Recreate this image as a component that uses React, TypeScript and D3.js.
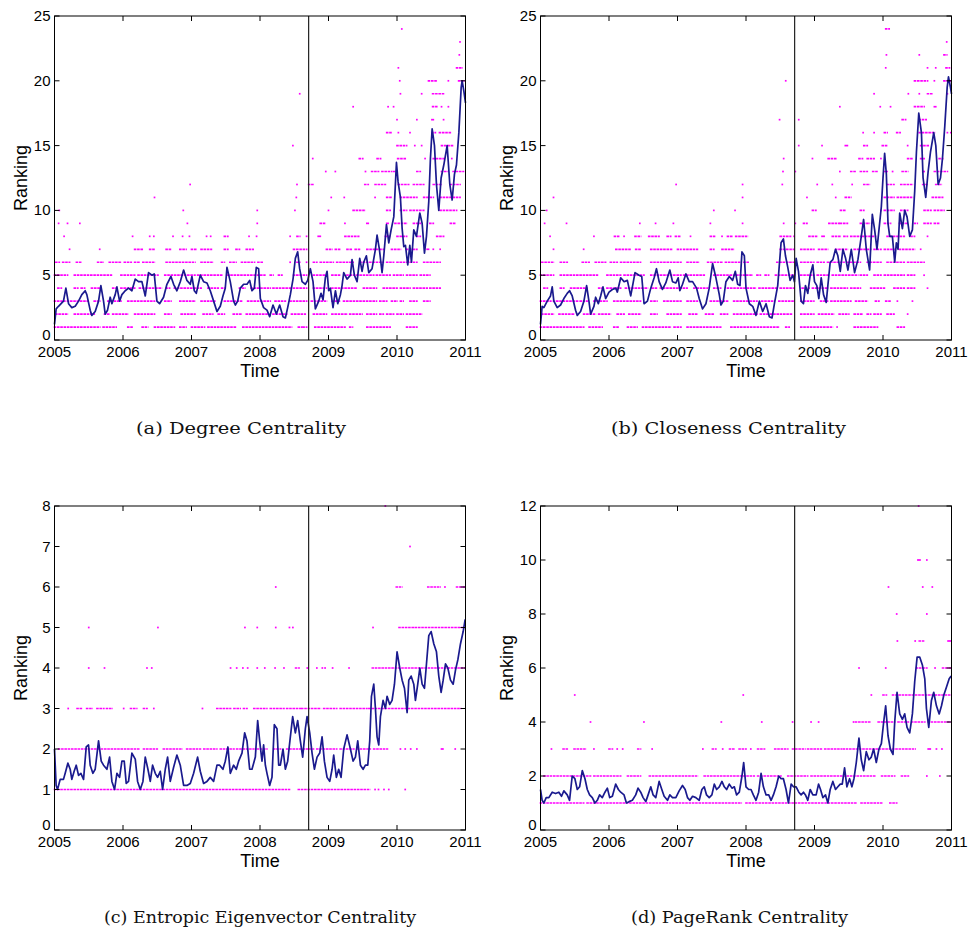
import React from "react";
import * as d3 from "d3";

const yearTicks = [2005, 2006, 2007, 2008, 2009, 2010, 2011];
const crisisDate = 2008.71;

const degreeLine: [number, number][] = [[2005.000,1.2],[2005.024,2.4],[2005.058,2.6],[2005.131,3.0],[2005.166,4.0],[2005.205,2.8],[2005.253,2.5],[2005.302,2.6],[2005.351,3.0],[2005.399,3.5],[2005.448,3.8],[2005.472,3.5],[2005.521,2.3],[2005.545,1.9],[2005.594,2.2],[2005.643,3.0],[2005.677,4.2],[2005.716,3.0],[2005.740,2.0],[2005.774,2.3],[2005.813,3.3],[2005.838,2.8],[2005.886,3.5],[2005.911,4.1],[2005.950,3.0],[2005.984,3.5],[2006.032,3.8],[2006.081,4.0],[2006.130,3.8],[2006.179,4.7],[2006.227,4.5],[2006.276,4.5],[2006.325,3.4],[2006.373,5.2],[2006.422,5.0],[2006.456,5.1],[2006.495,3.0],[2006.534,2.8],[2006.592,3.3],[2006.641,4.3],[2006.700,4.9],[2006.739,4.3],[2006.787,3.8],[2006.836,4.5],[2006.885,5.4],[2006.933,4.6],[2006.982,4.3],[2007.006,4.9],[2007.041,3.8],[2007.070,3.6],[2007.128,5.0],[2007.177,4.5],[2007.226,4.4],[2007.274,3.8],[2007.323,3.0],[2007.372,2.2],[2007.420,2.6],[2007.459,3.4],[2007.493,4.0],[2007.518,5.6],[2007.566,4.5],[2007.615,3.0],[2007.640,2.7],[2007.674,3.0],[2007.713,4.0],[2007.761,4.3],[2007.810,4.3],[2007.849,4.6],[2007.883,3.8],[2007.917,4.0],[2007.946,5.6],[2007.980,5.5],[2008.005,3.2],[2008.053,2.5],[2008.102,2.3],[2008.141,1.8],[2008.190,2.7],[2008.239,2.0],[2008.287,2.7],[2008.336,1.8],[2008.370,1.7],[2008.404,2.5],[2008.443,3.5],[2008.482,4.7],[2008.516,6.3],[2008.550,6.8],[2008.579,5.5],[2008.614,4.5],[2008.662,4.3],[2008.696,4.6],[2008.735,5.5],[2008.774,4.5],[2008.808,2.4],[2008.857,3.0],[2008.891,3.6],[2008.920,3.1],[2008.954,4.8],[2008.979,5.3],[2009.003,3.8],[2009.027,4.0],[2009.066,2.5],[2009.101,3.8],[2009.135,2.8],[2009.174,3.5],[2009.198,4.2],[2009.222,5.2],[2009.271,4.7],[2009.320,5.0],[2009.344,6.2],[2009.378,5.0],[2009.417,4.5],[2009.456,6.3],[2009.490,5.3],[2009.514,6.0],[2009.553,6.5],[2009.588,5.2],[2009.636,5.5],[2009.685,7.0],[2009.709,8.1],[2009.743,7.0],[2009.782,5.2],[2009.807,6.5],[2009.846,8.9],[2009.880,7.5],[2009.914,8.5],[2009.953,9.5],[2009.992,13.7],[2010.016,12.2],[2010.050,11.0],[2010.075,8.6],[2010.099,7.2],[2010.123,7.3],[2010.157,5.8],[2010.187,7.3],[2010.211,6.0],[2010.245,8.5],[2010.284,8.0],[2010.333,9.8],[2010.367,9.0],[2010.401,6.7],[2010.430,8.0],[2010.464,10.7],[2010.488,14.0],[2010.513,16.3],[2010.547,15.0],[2010.576,12.0],[2010.610,10.0],[2010.644,12.5],[2010.683,13.5],[2010.732,15.0],[2010.771,12.0],[2010.805,10.8],[2010.839,12.8],[2010.868,13.5],[2010.903,16.0],[2010.937,19.5],[2010.951,20.0],[2010.976,19.2],[2011.000,18.3]];

const closenessLine: [number, number][] = [[2005.000,1.2],[2005.024,2.6],[2005.049,2.5],[2005.098,3.0],[2005.146,3.4],[2005.171,4.1],[2005.195,3.0],[2005.244,2.5],[2005.293,2.7],[2005.341,3.2],[2005.390,3.6],[2005.424,3.8],[2005.463,3.4],[2005.512,2.3],[2005.537,1.9],[2005.585,2.2],[2005.634,3.0],[2005.673,4.2],[2005.707,3.0],[2005.732,2.0],[2005.780,2.6],[2005.805,3.3],[2005.844,2.8],[2005.878,3.4],[2005.912,4.1],[2005.951,3.2],[2006.000,3.7],[2006.049,3.9],[2006.098,4.0],[2006.122,3.7],[2006.171,4.8],[2006.220,4.5],[2006.268,4.6],[2006.317,3.4],[2006.380,5.2],[2006.439,5.0],[2006.478,4.9],[2006.512,2.8],[2006.561,3.0],[2006.610,4.0],[2006.659,4.8],[2006.693,5.5],[2006.732,4.5],[2006.780,3.9],[2006.829,4.4],[2006.888,5.4],[2006.927,4.5],[2006.976,4.4],[2007.010,4.8],[2007.034,3.8],[2007.073,4.3],[2007.122,5.1],[2007.171,4.5],[2007.220,4.5],[2007.278,4.0],[2007.317,3.2],[2007.366,2.4],[2007.415,2.8],[2007.463,4.0],[2007.512,5.9],[2007.561,4.8],[2007.610,3.5],[2007.634,2.7],[2007.668,3.0],[2007.707,4.5],[2007.756,4.9],[2007.805,4.6],[2007.844,5.3],[2007.878,4.3],[2007.912,4.2],[2007.941,6.8],[2007.976,6.5],[2008.000,4.0],[2008.049,2.8],[2008.098,2.6],[2008.146,1.9],[2008.195,3.0],[2008.244,2.2],[2008.293,2.8],[2008.341,1.8],[2008.380,1.7],[2008.415,2.8],[2008.463,4.2],[2008.512,7.5],[2008.546,7.8],[2008.576,6.5],[2008.610,5.6],[2008.644,4.6],[2008.683,5.0],[2008.707,4.5],[2008.732,6.3],[2008.766,5.3],[2008.805,3.0],[2008.839,2.8],[2008.868,4.2],[2008.902,3.6],[2008.937,5.0],[2008.976,5.8],[2009.000,4.5],[2009.034,4.2],[2009.063,3.2],[2009.098,4.8],[2009.132,3.5],[2009.171,2.9],[2009.195,4.2],[2009.229,6.0],[2009.268,6.2],[2009.307,7.0],[2009.341,6.5],[2009.376,5.3],[2009.415,7.0],[2009.454,6.3],[2009.488,5.4],[2009.537,7.0],[2009.585,5.2],[2009.634,6.2],[2009.683,8.0],[2009.717,9.3],[2009.756,7.0],[2009.805,5.4],[2009.844,9.7],[2009.878,8.5],[2009.912,7.0],[2009.941,8.5],[2009.976,10.3],[2010.000,12.5],[2010.024,14.4],[2010.049,12.8],[2010.073,9.0],[2010.098,8.0],[2010.137,8.0],[2010.171,6.0],[2010.195,7.5],[2010.220,7.0],[2010.244,9.8],[2010.283,8.6],[2010.317,10.0],[2010.351,9.5],[2010.390,8.0],[2010.429,8.5],[2010.463,11.5],[2010.488,14.5],[2010.522,17.5],[2010.561,16.0],[2010.585,12.5],[2010.624,11.0],[2010.659,13.0],[2010.693,14.5],[2010.741,16.0],[2010.771,15.0],[2010.805,12.0],[2010.839,12.5],[2010.868,14.0],[2010.902,16.5],[2010.937,19.5],[2010.956,20.3],[2010.985,19.5],[2011.000,19.0]];

const entropicLine: [number, number][] = [[2005.000,2.0],[2005.024,1.1],[2005.044,1.0],[2005.083,1.25],[2005.131,1.25],[2005.156,1.4],[2005.195,1.65],[2005.229,1.5],[2005.253,1.25],[2005.287,1.45],[2005.317,1.6],[2005.351,1.35],[2005.385,1.4],[2005.424,1.25],[2005.463,2.05],[2005.497,2.1],[2005.521,1.6],[2005.560,1.4],[2005.594,1.5],[2005.643,2.2],[2005.682,1.7],[2005.716,1.6],[2005.765,1.5],[2005.804,1.8],[2005.838,1.2],[2005.877,1.0],[2005.911,1.4],[2005.950,1.3],[2005.984,1.7],[2006.018,1.7],[2006.047,1.15],[2006.081,1.2],[2006.130,1.9],[2006.179,1.75],[2006.213,1.2],[2006.252,1.0],[2006.291,1.2],[2006.325,1.8],[2006.364,1.5],[2006.398,1.2],[2006.432,1.6],[2006.471,1.4],[2006.505,1.3],[2006.544,1.45],[2006.578,1.0],[2006.617,1.5],[2006.651,1.8],[2006.690,1.2],[2006.739,1.55],[2006.787,1.85],[2006.836,1.6],[2006.885,1.1],[2006.933,1.1],[2006.982,1.15],[2007.031,1.4],[2007.089,1.8],[2007.128,1.45],[2007.177,1.15],[2007.226,1.2],[2007.274,1.3],[2007.323,1.2],[2007.372,1.6],[2007.411,1.6],[2007.459,1.5],[2007.493,1.7],[2007.532,2.05],[2007.566,1.4],[2007.615,1.6],[2007.654,1.5],[2007.688,1.7],[2007.737,1.9],[2007.776,2.4],[2007.810,2.2],[2007.849,1.5],[2007.883,1.5],[2007.932,1.8],[2007.966,2.7],[2007.995,2.2],[2008.029,1.7],[2008.053,2.1],[2008.078,1.6],[2008.102,1.4],[2008.141,1.1],[2008.175,1.3],[2008.209,2.6],[2008.248,2.5],[2008.273,1.6],[2008.297,1.6],[2008.336,2.0],[2008.370,1.5],[2008.404,1.7],[2008.443,2.3],[2008.477,2.8],[2008.516,2.4],[2008.550,2.7],[2008.589,2.2],[2008.623,1.8],[2008.662,2.5],[2008.687,2.8],[2008.726,2.4],[2008.760,1.9],[2008.794,1.5],[2008.833,1.8],[2008.872,1.9],[2008.906,2.3],[2008.940,1.7],[2008.979,1.3],[2009.018,1.2],[2009.052,1.5],[2009.076,1.85],[2009.115,1.3],[2009.149,1.5],[2009.183,1.3],[2009.222,2.0],[2009.271,2.35],[2009.320,2.0],[2009.359,1.7],[2009.393,1.8],[2009.427,2.2],[2009.466,1.6],[2009.505,1.5],[2009.539,1.6],[2009.573,1.6],[2009.602,2.2],[2009.627,3.3],[2009.661,3.6],[2009.685,3.0],[2009.709,2.3],[2009.734,2.1],[2009.758,2.8],[2009.797,3.2],[2009.831,3.0],[2009.855,3.3],[2009.894,3.1],[2009.928,3.2],[2009.963,3.6],[2010.001,4.4],[2010.040,4.0],[2010.075,3.7],[2010.109,3.5],[2010.148,2.9],[2010.172,3.7],[2010.206,3.8],[2010.245,3.6],[2010.269,3.2],[2010.303,3.6],[2010.333,4.0],[2010.367,3.6],[2010.401,3.5],[2010.430,4.1],[2010.464,4.8],[2010.498,4.9],[2010.537,4.6],[2010.576,4.4],[2010.610,3.8],[2010.644,3.4],[2010.674,3.7],[2010.708,4.1],[2010.742,4.0],[2010.781,3.7],[2010.820,3.6],[2010.854,3.95],[2010.888,4.2],[2010.927,4.6],[2010.966,4.9],[2010.995,5.2]];

const pagerankLine: [number, number][] = [[2005.000,1.5],[2005.024,1.1],[2005.049,1.0],[2005.083,1.2],[2005.122,1.2],[2005.171,1.4],[2005.220,1.35],[2005.268,1.4],[2005.307,1.25],[2005.341,1.45],[2005.390,1.3],[2005.424,1.1],[2005.463,2.0],[2005.502,1.9],[2005.537,1.5],[2005.571,1.6],[2005.610,2.2],[2005.649,1.9],[2005.683,1.5],[2005.717,1.3],[2005.756,1.2],[2005.795,1.0],[2005.829,1.1],[2005.863,1.3],[2005.902,1.2],[2005.941,1.4],[2005.976,1.55],[2006.010,1.2],[2006.049,1.25],[2006.098,1.7],[2006.137,1.5],[2006.171,1.4],[2006.220,1.3],[2006.254,1.0],[2006.293,1.05],[2006.341,1.1],[2006.390,1.3],[2006.424,1.55],[2006.463,1.4],[2006.498,1.2],[2006.537,1.05],[2006.571,1.3],[2006.610,1.6],[2006.644,1.3],[2006.683,1.2],[2006.732,1.8],[2006.771,1.5],[2006.805,1.25],[2006.854,1.1],[2006.888,1.3],[2006.927,1.2],[2006.976,1.2],[2007.024,1.45],[2007.073,1.65],[2007.112,1.5],[2007.146,1.2],[2007.180,1.1],[2007.220,1.25],[2007.268,1.2],[2007.317,1.1],[2007.356,1.5],[2007.390,1.6],[2007.424,1.3],[2007.463,1.2],[2007.502,1.3],[2007.537,1.7],[2007.571,1.5],[2007.610,1.6],[2007.649,1.8],[2007.683,1.6],[2007.717,1.5],[2007.756,1.7],[2007.795,1.55],[2007.829,1.6],[2007.863,1.3],[2007.902,1.4],[2007.941,2.0],[2007.966,2.5],[2008.000,1.6],[2008.039,1.5],[2008.073,1.5],[2008.107,1.3],[2008.146,1.1],[2008.185,1.4],[2008.220,2.1],[2008.254,1.6],[2008.293,1.3],[2008.332,1.3],[2008.366,1.1],[2008.400,1.3],[2008.439,1.6],[2008.478,2.0],[2008.512,1.9],[2008.546,1.9],[2008.585,1.5],[2008.620,1.0],[2008.659,1.7],[2008.693,1.6],[2008.732,1.6],[2008.771,1.4],[2008.805,1.3],[2008.839,1.4],[2008.868,1.3],[2008.902,1.1],[2008.937,1.5],[2008.976,1.3],[2009.024,1.3],[2009.059,1.7],[2009.088,1.5],[2009.122,1.2],[2009.161,1.3],[2009.195,1.0],[2009.229,1.5],[2009.268,1.8],[2009.307,1.5],[2009.341,1.6],[2009.376,1.7],[2009.405,1.7],[2009.439,2.3],[2009.473,1.6],[2009.512,1.9],[2009.546,1.6],[2009.576,1.9],[2009.610,2.5],[2009.649,3.4],[2009.683,2.6],[2009.717,2.2],[2009.756,2.9],[2009.795,2.6],[2009.829,2.7],[2009.863,3.0],[2009.902,2.5],[2009.941,3.0],[2009.976,3.2],[2010.010,4.0],[2010.039,4.6],[2010.073,3.5],[2010.107,3.0],[2010.146,2.8],[2010.171,4.0],[2010.205,5.1],[2010.244,4.3],[2010.283,4.1],[2010.317,4.3],[2010.351,3.8],[2010.390,3.6],[2010.429,4.3],[2010.463,5.5],[2010.498,6.4],[2010.537,6.4],[2010.576,6.1],[2010.610,5.6],[2010.634,4.5],[2010.668,3.8],[2010.707,4.8],[2010.741,5.1],[2010.780,4.6],[2010.820,4.3],[2010.854,4.6],[2010.888,5.0],[2010.927,5.3],[2010.966,5.6],[2010.995,5.7]];

type DotRow = [number, number[][]];

const degreeDots: DotRow[] = [
  [1, [[2005.00,2005.66],[2005.71,2005.90],[2006.07,2006.14],[2006.28,2006.36],[2006.46,2006.75],[2006.83,2006.92],[2007.00,2007.19],[2007.24,2007.65],[2007.75,2008.46],[2008.56,2008.61],[2008.63,2008.68],[2008.80,2009.24],[2009.31,2009.35],[2009.56,2009.90],[2010.14,2010.29]]],
  [2, [[2005.02,2005.19],[2005.29,2005.58],[2005.73,2005.80],[2005.85,2006.07],[2006.17,2006.46],[2006.61,2006.70],[2006.85,2007.05],[2007.17,2007.31],[2007.39,2007.48],[2007.61,2007.73],[2007.80,2008.12],[2008.19,2008.27],[2008.29,2008.39],[2008.46,2008.66],[2008.78,2008.97],[2009.05,2009.27],[2009.31,2009.49],[2009.56,2009.70],[2009.75,2009.80],[2009.85,2009.95],[2010.00,2010.09],[2010.14,2010.36]]],
  [3, [[2005.00,2005.15],[2005.19,2005.49],[2005.58,2005.66],[2005.78,2005.97],[2006.07,2006.46],[2006.61,2006.70],[2006.83,2007.05],[2007.14,2007.34],[2007.48,2007.73],[2007.82,2008.15],[2008.22,2008.37],[2008.44,2008.68],[2008.75,2008.97],[2009.05,2009.17],[2009.22,2009.70],[2009.75,2009.85],[2009.92,2010.00],[2010.05,2010.09],[2010.19,2010.29],[2010.39,2010.48]]],
  [4, [[2005.05,2005.10],[2005.29,2005.34],[2005.39,2005.44],[2005.54,2005.66],[2005.85,2005.90],[2005.97,2006.17],[2006.24,2006.56],[2006.63,2006.68],[2006.75,2007.14],[2007.24,2007.39],[2007.44,2007.48],[2007.70,2007.78],[2007.87,2008.15],[2008.19,2008.44],[2008.49,2008.68],[2008.78,2008.97],[2009.05,2009.41],[2009.51,2009.70],[2009.80,2010.00],[2010.05,2010.19],[2010.24,2010.44],[2010.48,2010.63]]],
  [5, [[2005.00,2005.19],[2005.29,2005.83],[2005.97,2006.17],[2006.22,2006.51],[2006.61,2007.05],[2007.09,2007.44],[2007.53,2008.07],[2008.15,2008.19],[2008.27,2008.32],[2008.49,2008.68],[2008.78,2008.97],[2009.05,2009.17],[2009.27,2009.66],[2009.70,2009.90],[2009.95,2010.09],[2010.14,2010.29],[2010.34,2010.48]]],
  [6, [[2005.02,2005.07],[2005.12,2005.22],[2005.32,2005.39],[2005.63,2005.71],[2005.80,2005.97],[2006.02,2006.12],[2006.17,2006.24],[2006.29,2006.46],[2006.63,2007.05],[2007.14,2007.31],[2007.44,2007.48],[2007.56,2007.65],[2007.73,2007.92],[2007.97,2008.04],[2008.44],[2008.54,2008.58],[2008.68],[2008.78,2008.83],[2008.88,2009.07],[2009.12,2009.36],[2009.46,2009.80],[2009.85,2009.95],[2010.00,2010.29],[2010.39,2010.63]]],
  [7, [[2005.22],[2005.66],[2006.17,2006.29],[2006.39,2006.46],[2006.63,2006.70],[2006.83,2006.92],[2007.00,2007.07],[2007.14,2007.29],[2007.48,2007.53],[2007.65,2007.70],[2007.80,2007.90],[2008.49,2008.68],[2008.97,2009.05],[2009.10,2009.17],[2009.27,2009.34],[2009.39,2009.46],[2009.56,2009.80],[2009.92,2010.05],[2010.14,2010.29],[2010.44,2010.46],[2010.53],[2010.63]]],
  [8, [[2005.14],[2006.14],[2006.39],[2006.45],[2006.73],[2006.87],[2006.97],[2007.22],[2007.28],[2007.48,2007.53],[2007.84],[2007.95],[2008.44],[2008.54,2008.58],[2008.68],[2008.85,2008.88],[2009.24,2009.44],[2009.83,2009.90],[2010.00,2010.14],[2010.29,2010.34],[2010.58,2010.68]]],
  [9, [[2005.06],[2005.19],[2005.37],[2006.94],[2007.96],[2008.88,2008.95],[2009.24],[2009.56,2009.58],[2009.85,2009.87],[2009.97,2010.14],[2010.24,2010.34],[2010.48,2010.53],[2010.78,2010.85]]],
  [10, [[2005.07],[2006.88],[2007.96],[2008.51],[2009.00],[2009.36,2009.53],[2009.85,2009.90],[2010.05,2010.14],[2010.19,2010.39],[2010.63,2010.87]]],
  [11, [[2006.46],[2008.53],[2009.04],[2009.23],[2009.68],[2009.85,2009.92],[2010.05,2010.29],[2010.39,2010.53],[2010.63,2010.92]]],
  [12, [[2006.98],[2008.54],[2008.71,2008.78],[2009.53,2009.58],[2009.68,2009.83],[2010.02,2010.17],[2010.24,2010.39],[2010.53,2010.65],[2010.78,2010.92]]],
  [13, [[2008.96],[2009.10],[2009.54],[2009.63,2009.73],[2009.78,2009.92],[2009.95,2010.00],[2010.29,2010.34],[2010.65,2010.73],[2010.82,2010.97]]],
  [14, [[2008.77],[2009.45,2009.50],[2009.71,2009.76],[2010.01,2010.13],[2010.41],[2010.53,2010.68],[2010.80]]],
  [15, [[2008.48],[2010.00,2010.14],[2010.26],[2010.36],[2010.65,2010.82]]],
  [16, [[2009.85,2009.92],[2010.02],[2010.19],[2010.51,2010.56],[2010.62,2010.78]]],
  [17, [[2010.00],[2010.29],[2010.51,2010.53],[2010.68]]],
  [18, [[2009.36],[2009.87],[2009.95],[2010.52,2010.58],[2010.65],[2010.75]]],
  [19, [[2008.58],[2010.05],[2010.36],[2010.52,2010.68]]],
  [20, [[2010.04],[2010.46,2010.58],[2010.75],[2010.90,2010.98]]],
  [21, [[2010.02],[2010.87,2010.95]]],
  [22, [[2010.91]]],
  [23, [[2010.92]]],
  [24, [[2010.07]]],
];

const closenessDots: DotRow[] = [
  [1, [[2005.00,2005.63],[2005.71,2005.90],[2006.07,2006.14],[2006.27,2006.41],[2006.49,2006.90],[2006.95,2007.05],[2007.14,2007.63],[2007.78,2008.48],[2008.58,2008.63],[2008.80,2009.26],[2009.33],[2009.58,2009.92],[2010.21,2010.31]]],
  [2, [[2005.02,2005.19],[2005.27,2005.49],[2005.63,2005.80],[2005.85,2006.02],[2006.12,2006.22],[2006.29,2006.46],[2006.61,2006.70],[2006.85,2007.05],[2007.17,2007.29],[2007.41,2007.53],[2007.63,2007.73],[2007.82,2008.16],[2008.21,2008.31],[2008.36,2008.67],[2008.80,2008.99],[2009.06,2009.28],[2009.36,2009.50],[2009.58,2009.70],[2009.77,2009.82],[2009.87,2009.97],[2010.06,2010.16],[2010.36]]],
  [3, [[2005.00,2005.15],[2005.19,2005.54],[2005.58,2005.68],[2005.78,2005.97],[2006.07,2006.46],[2006.61,2006.70],[2006.80,2007.05],[2007.14,2007.29],[2007.48,2007.73],[2007.82,2008.16],[2008.23,2008.41],[2008.48,2008.70],[2008.80,2008.99],[2009.09,2009.19],[2009.24,2009.53],[2009.60,2009.77],[2009.89,2009.94],[2010.04,2010.11],[2010.21],[2010.43]]],
  [4, [[2005.05,2005.10],[2005.29,2005.34],[2005.44,2005.68],[2005.85,2005.90],[2005.97,2006.17],[2006.24,2006.56],[2006.63,2006.70],[2006.75,2007.14],[2007.24,2007.44],[2007.53,2007.63],[2007.73,2008.14],[2008.19,2008.45],[2008.50,2008.70],[2008.82,2008.92],[2008.97,2009.19],[2009.24,2009.48],[2009.53,2009.67],[2009.82,2010.02],[2010.16,2010.31],[2010.36,2010.46],[2010.65]]],
  [5, [[2005.00,2005.19],[2005.29,2005.83],[2005.97,2006.17],[2006.22,2006.51],[2006.61,2007.05],[2007.09,2007.39],[2007.53,2008.09],[2008.16,2008.21],[2008.28,2008.33],[2008.43,2008.70],[2008.80,2008.99],[2009.04,2009.21],[2009.26,2009.63],[2009.67,2009.77],[2009.87,2009.97],[2010.02,2010.31],[2010.36,2010.46],[2010.60]]],
  [6, [[2005.02,2005.19],[2005.29,2005.39],[2005.61,2005.71],[2005.80,2005.95],[2006.02,2006.12],[2006.17,2006.46],[2006.61,2007.05],[2007.14,2007.31],[2007.44,2007.65],[2007.70,2007.92],[2007.97,2008.04],[2008.45,2008.70],[2008.80,2008.99],[2009.04,2009.14],[2009.19,2009.43],[2009.48,2009.67],[2009.77,2009.97],[2010.06,2010.31],[2010.36,2010.60]]],
  [7, [[2005.19],[2005.63],[2006.10,2006.31],[2006.39,2006.46],[2006.61,2006.92],[2007.00,2007.05],[2007.09,2007.29],[2007.48,2007.53],[2007.65,2007.82],[2008.50,2008.70],[2008.80,2008.99],[2009.06,2009.19],[2009.31,2009.48],[2009.58,2009.82],[2009.87,2009.97],[2010.02,2010.16],[2010.24,2010.46],[2010.55]]],
  [8, [[2005.14],[2005.78],[2006.08,2006.14],[2006.22],[2006.38,2006.46],[2006.58,2006.73],[2006.85,2006.90],[2006.97,2007.04],[2007.19],[2007.48,2007.54],[2007.65],[2007.73,2007.80],[2007.85,2008.02],[2008.50,2008.65],[2008.70],[2008.92,2009.04],[2009.11,2009.14],[2009.26,2009.38],[2009.43,2009.48],[2009.53,2009.67],[2009.70,2009.89],[2010.06,2010.31],[2010.41,2010.46],[2010.65]]],
  [9, [[2005.06],[2005.38],[2006.45],[2006.68],[2006.94],[2007.48],[2007.95],[2008.55],[2008.72],[2008.84,2008.89],[2009.21,2009.36],[2009.38,2009.48],[2009.67,2009.80],[2010.02,2010.11],[2010.24,2010.36],[2010.46,2010.50],[2010.60,2010.70],[2010.75,2010.82]]],
  [10, [[2005.09],[2007.53],[2007.84],[2008.97,2009.02],[2009.38,2009.45],[2009.67,2009.72],[2009.97],[2010.02,2010.16],[2010.26,2010.36],[2010.60,2010.70],[2010.75,2010.89]]],
  [11, [[2005.19],[2007.95],[2008.89],[2009.31],[2009.45,2009.53],[2010.02,2010.16],[2010.21,2010.43],[2010.72,2010.87]]],
  [12, [[2006.98],[2007.95],[2008.53],[2009.04],[2009.26],[2009.55],[2009.72,2009.80],[2010.06,2010.16],[2010.26,2010.43],[2010.58,2010.65],[2010.77,2010.85]]],
  [13, [[2008.54],[2008.72],[2009.37],[2009.53,2009.60],[2009.67,2009.77],[2009.85,2009.92],[2010.02,2010.06],[2010.14],[2010.28,2010.36],[2010.58,2010.60],[2010.75,2010.94]]],
  [14, [[2008.55],[2008.97],[2009.20,2009.31],[2009.65,2009.70],[2009.77,2009.87],[2009.97],[2010.36,2010.43],[2010.55,2010.60],[2010.82,2010.87]]],
  [15, [[2008.77],[2009.11],[2009.45,2009.48],[2009.72,2009.77],[2009.99,2010.06],[2010.36],[2010.55,2010.67]]],
  [16, [[2009.71],[2009.87],[2010.02,2010.06],[2010.20,2010.25],[2010.53,2010.75],[2010.94],[2010.99]]],
  [17, [[2008.49],[2008.77],[2010.28,2010.33],[2010.53,2010.63]]],
  [18, [[2009.37],[2009.96],[2010.11],[2010.46,2010.60],[2010.75,2010.77]]],
  [19, [[2009.87],[2010.37],[2010.53],[2010.65,2010.72],[2010.94]]],
  [20, [[2008.58],[2010.46,2010.65],[2010.75],[2010.89,2010.99]]],
  [21, [[2010.04],[2010.65],[2010.77],[2010.92,2010.97]]],
  [22, [[2010.05],[2010.53],[2010.89,2010.93]]],
  [23, [[2010.93]]],
  [24, [[2010.04,2010.09]]],
];

const entropicDots: DotRow[] = [
  [1, [[2005.00,2008.43],[2008.56,2009.60],[2009.68],[2009.73],[2009.81],[2009.88],[2010.12]]],
  [2, [[2005.06,2006.23],[2006.30,2006.50],[2006.59,2006.86],[2006.93,2007.13],[2007.18,2007.37],[2007.42,2007.62],[2007.66,2007.91],[2007.96,2008.10],[2008.20,2008.30],[2008.39,2008.78],[2008.83,2009.12],[2009.17,2009.37],[2009.42,2009.61],[2009.66,2009.86],[2010.05],[2010.12],[2010.20],[2010.29],[2010.65],[2010.67],[2010.85]]],
  [3, [[2005.20],[2005.33,2005.40],[2005.47,2005.55],[2005.62,2005.72],[2005.76,2005.84],[2006.01],[2006.11,2006.20],[2006.30,2006.35],[2006.45],[2007.16],[2007.37,2007.57],[2007.62,2007.71],[2007.76,2007.81],[2007.91,2008.10],[2008.15,2008.35],[2008.39,2008.59],[2008.61,2008.88],[2008.93,2009.12],[2009.17,2009.56],[2009.59,2010.93]]],
  [4, [[2005.50],[2005.73],[2006.35],[2006.42],[2007.57],[2007.66],[2007.75],[2007.82],[2007.96],[2008.07],[2008.22],[2008.35],[2008.52,2008.57],[2008.69],[2008.83],[2008.91],[2008.95],[2009.06],[2009.30],[2009.64,2010.98]]],
  [5, [[2005.50],[2006.51],[2007.78],[2007.96],[2008.23],[2008.43],[2008.48],[2009.65],[2010.03,2010.25],[2010.27,2010.98]]],
  [6, [[2008.23],[2009.99,2010.07],[2010.45,2010.63],[2010.70],[2010.87,2010.98]]],
  [7, [[2010.19]]],
  [8, [[2009.83]]],
];

const pagerankDots: DotRow[] = [
  [1, [[2005.00,2005.63],[2005.68,2007.93],[2008.00,2009.61],[2009.68,2009.98],[2010.10,2010.20]]],
  [2, [[2005.05,2005.73],[2005.78,2006.17],[2006.27,2006.46],[2006.59,2007.29],[2007.39,2008.12],[2008.17,2008.51],[2008.61,2008.90],[2008.95,2009.88],[2009.98,2010.17],[2010.27,2010.37],[2010.64],[2010.83]]],
  [3, [[2005.16],[2005.33,2005.39],[2005.49,2005.66],[2005.78],[2006.00,2006.05],[2006.12],[2006.20],[2006.42,2006.46],[2006.63],[2007.37],[2007.51,2007.56],[2007.66],[2007.76,2007.83],[2007.90,2008.00],[2008.07],[2008.17,2008.27],[2008.42,2008.61],[2008.68,2008.86],[2008.90,2009.10],[2009.15,2009.39],[2009.42,2010.47],[2010.66,2010.69],[2010.78],[2010.86]]],
  [4, [[2005.73],[2006.51],[2007.64],[2008.23],[2008.68],[2008.95],[2009.06],[2009.57],[2009.60,2009.81],[2009.93,2010.17],[2010.22,2010.37],[2010.42,2010.61],[2010.66,2010.98]]],
  [5, [[2005.50],[2007.96],[2009.83],[2010.00,2010.05],[2010.14,2010.98]]],
  [6, [[2009.65],[2010.04],[2010.49,2010.64],[2010.76],[2010.87,2010.98]]],
  [7, [[2010.21],[2010.47],[2010.53,2010.60],[2010.95,2010.98]]],
  [8, [[2010.20],[2010.64]]],
  [9, [[2010.08],[2010.58],[2010.72]]],
  [10, [[2010.51,2010.54],[2010.64]]],
  [12, [[2010.52]]],
];

const degreeTicks = [0, 5, 10, 15, 20, 25];
const closenessTicks = [0, 5, 10, 15, 20, 25];
const entropicTicks = [0, 1, 2, 3, 4, 5, 6, 7, 8];
const pagerankTicks = [0, 2, 4, 6, 8, 10, 12];

const captions = [
  "(a) Degree Centrality",
  "(b) Closeness Centrality",
  "(c) Entropic Eigenvector Centrality",
  "(d) PageRank Centrality",
];

const SANS = "'Liberation Sans', Arial, Helvetica, sans-serif";
const SERIF = "'DejaVu Serif', serif";

type PanelProps = {
  left: number;
  top: number;
  line: [number, number][];
  dots: DotRow[];
  ticks: number[];
  caption: string;
  captionX: number;
  captionY: number;
  captionW: number;
};

function Panel({ left, top, line, dots, ticks, caption, captionX, captionY, captionW }: PanelProps) {
  const width = 411;
  const height = 324;
  const yMax = ticks[ticks.length - 1];
  const x = d3.scaleLinear().domain([2005, 2011]).range([left, left + width]);
  const y = d3.scaleLinear().domain([0, yMax]).range([top + height, top]);
  const path = d3
    .line<[number, number]>()
    .x((d) => x(d[0]))
    .y((d) => y(d[1]))(line);
  const dotH = 1.7;
  const marks: React.ReactNode[] = [];
  dots.forEach(([level, spans], i) => {
    spans.forEach((s, j) => {
      const s0 = s[0];
      const s1 = s.length > 1 ? s[1] : s[0];
      const x0 = x(s0) - dotH / 2;
      const w = Math.max(dotH, x(s1) - x(s0) + dotH);
      if (w <= dotH * 2.5) {
        marks.push(
          <rect key={`${i}-${j}`} x={x0} y={y(level) - dotH / 2} width={w} height={dotH} fill="#ff00ff" />
        );
      } else {
        marks.push(
          <line
            key={`${i}-${j}`}
            x1={x0}
            x2={x0 + w}
            y1={y(level)}
            y2={y(level)}
            stroke="#ff00ff"
            strokeWidth={dotH}
            strokeDasharray="2.6 0.7"
          />
        );
      }
    });
  });
  const tickLen = 5;
  const bottom = top + height;
  const right = left + width;
  return (
    <g>
      <g>{marks}</g>
      <path d={path || ""} fill="none" stroke="#1a1a8e" strokeWidth={1.7} strokeLinejoin="round" />
      <line x1={x(crisisDate)} x2={x(crisisDate)} y1={top} y2={bottom} stroke="#222" strokeWidth={1.2} />
      <rect x={left} y={top} width={width} height={height} fill="none" stroke="#000" strokeWidth={1} />
      {yearTicks.map((t) => (
        <g key={`xt${t}`}>
          <line x1={x(t)} x2={x(t)} y1={bottom} y2={bottom - tickLen} stroke="#000" />
          <line x1={x(t)} x2={x(t)} y1={top} y2={top + tickLen} stroke="#000" />
          <text x={x(t)} y={bottom + 16.5} textAnchor="middle" fontFamily={SANS} fontSize={15} fill="#000">
            {t}
          </text>
        </g>
      ))}
      {ticks.map((t) => (
        <g key={`yt${t}`}>
          <line x1={left} x2={left + tickLen} y1={y(t)} y2={y(t)} stroke="#000" />
          <line x1={right} x2={right - tickLen} y1={y(t)} y2={y(t)} stroke="#000" />
          <text x={left - 4} y={y(t) + (t === 0 ? 0 : 5)} textAnchor="end" fontFamily={SANS} fontSize={15} fill="#000">
            {t}
          </text>
        </g>
      ))}
      <text x={(left + right) / 2} y={bottom + 37} textAnchor="middle" fontFamily={SANS} fontSize={18} fill="#000">
        Time
      </text>
      <text
        transform={`translate(${left - 28},${(top + bottom) / 2}) rotate(-90)`}
        textAnchor="middle"
        fontFamily={SANS}
        fontSize={18}
        fill="#000"
      >
        Ranking
      </text>
      <text
        x={captionX}
        y={captionY}
        textAnchor="middle"
        fontFamily={SERIF}
        fontSize={16}
        textLength={captionW}
        lengthAdjust="spacingAndGlyphs"
        fill="#111"
      >
        {caption}
      </text>
    </g>
  );
}

export default function App() {
  return (
    <svg width={972} height={935} style={{ display: "block", position: "absolute", left: 0, top: 0, background: "#fff" }}>
      <rect x={0} y={0} width={972} height={935} fill="#fff" />
      <Panel left={54.5} top={16} line={degreeLine} dots={degreeDots} ticks={degreeTicks} caption={captions[0]} captionX={241} captionY={434} captionW={210} />
      <Panel left={540.5} top={16} line={closenessLine} dots={closenessDots} ticks={closenessTicks} caption={captions[1]} captionX={728.5} captionY={434} captionW={235} />
      <Panel left={54.5} top={506} line={entropicLine} dots={entropicDots} ticks={entropicTicks} caption={captions[2]} captionX={260} captionY={923} captionW={312} />
      <Panel left={540.5} top={506} line={pagerankLine} dots={pagerankDots} ticks={pagerankTicks} caption={captions[3]} captionX={739.5} captionY={923} captionW={217} />
    </svg>
  );
}
